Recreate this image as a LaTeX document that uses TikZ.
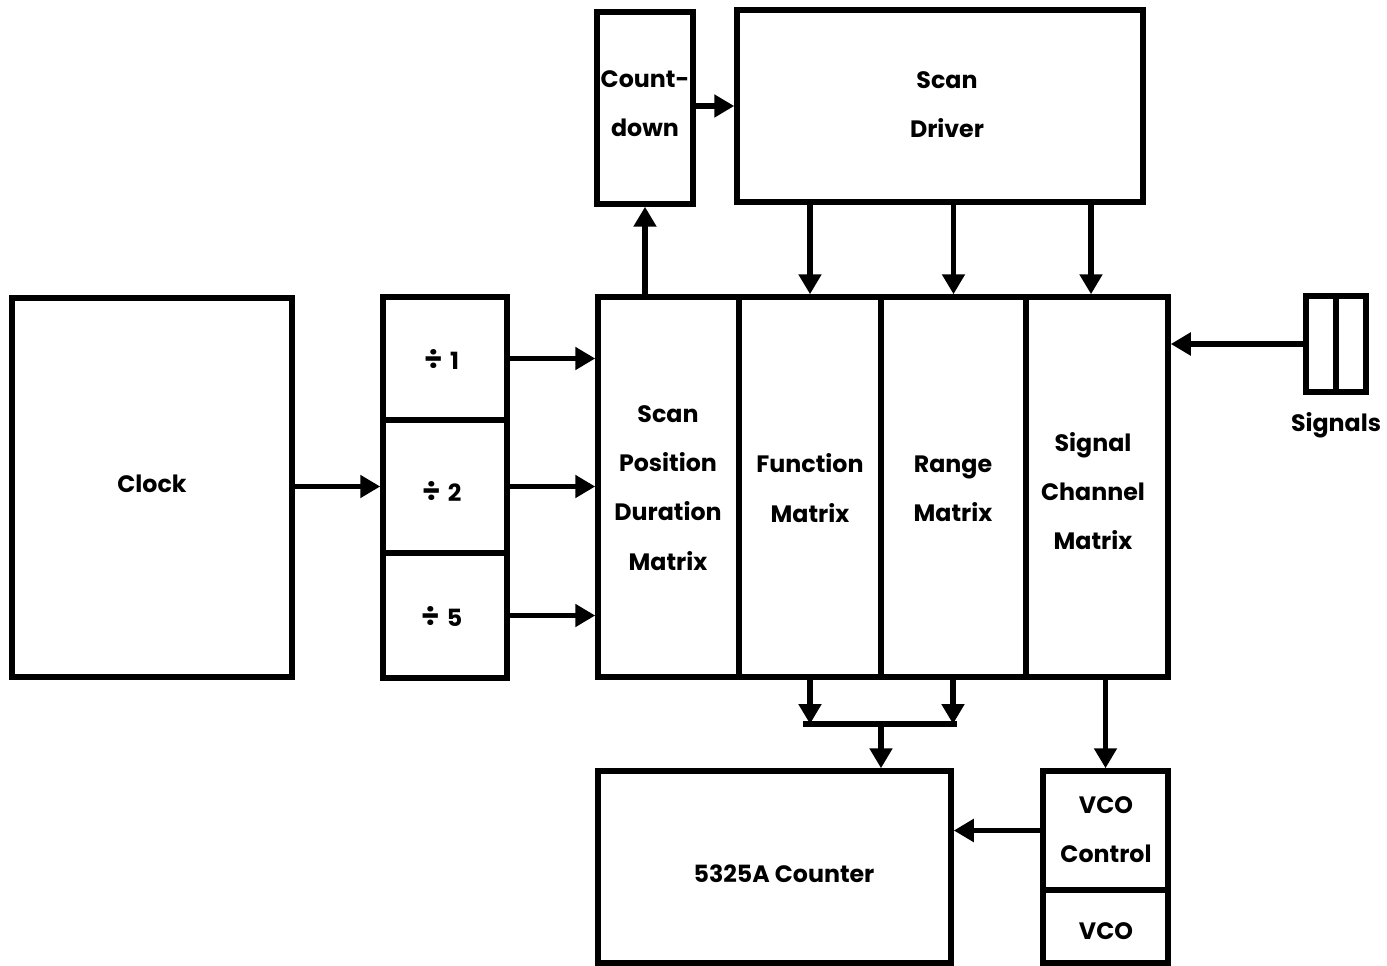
\documentclass[tikz,border=0pt]{standalone}
\usepackage{fontspec}
\setmainfont{Poppins}
\usetikzlibrary{arrows.meta,fit}
\newcommand{\dvs}[1]{{\fontsize{17pt}{17pt}\selectfont ÷}\hspace{0.14cm}#1}
\begin{document}
\begin{tikzpicture}[x=0.02cm,y=-0.02cm,
  box/.style={draw, line width=0.11cm, inner sep=0pt},
  lbl/.style={align=center, inner sep=0pt, font=\fontsize{13.5pt}{28pt}\selectfont\bfseries},
  arr/.style={line width=0.11cm, -{Triangle[length=0.4cm,width=0.44cm]}},
  wire/.style={line width=0.11cm}]
\useasboundingbox (0,0) rectangle (1387,966);
% boxes
\node[box, fit={(12,298) (292,677)}] (clock) {};
\node[box, fit={(383,297) (507,420)}] (d1) {};
\node[box, fit={(383,420) (507,553)}] (d2) {};
\node[box, fit={(383,553) (507,678)}] (d5) {};
\node[box, fit={(598,297) (739,677)}] (spd) {};
\node[box, fit={(739,297) (881,677)}] (fun) {};
\node[box, fit={(881,297) (1026,677)}] (rng) {};
\node[box, fit={(1026,297) (1168,677)}] (sig) {};
\node[box, fit={(597,12) (693,204)}] (cd) {};
\node[box, fit={(737,10) (1143,202)}] (sd) {};
\node[box, fit={(1306,296) (1336,392)}] (sA) {};
\node[box, fit={(1336,296) (1366,392)}] (sB) {};
\node[box, fit={(598,771) (951,963)}] (ctr) {};
\node[box, fit={(1043,771) (1168,890)}] (vcoc) {};
\node[box, fit={(1043,890) (1168,963)}] (vco) {};
% texts
\node[lbl] (clockT) at (152,484) {Clock};
\node[lbl] (d1T) at (442,359) {\dvs{1}};
\node[lbl] (d2T) at (442,491) {\dvs{2}};
\node[lbl] (d5T) at (442,616) {\dvs{5}};
\node[lbl] (spdT) at (668,488) {Scan\\Position\\Duration\\Matrix};
\node[lbl] (funT) at (810,488) {Function\\Matrix};
\node[lbl] (rngT) at (953,489) {Range\\Matrix};
\node[lbl] (sigT) at (1093,491) {Signal\\Channel\\Matrix};
\node[lbl] (cdT) at (645,104) {Count-\\down};
\node[lbl] (sdT) at (947,105) {Scan\\Driver};
\node[lbl] (siglbl) at (1336,425) {Signals};
\node[lbl] (ctrT) at (784,874) {5325A Counter};
\node[lbl] (vcocT) at (1106,830) {VCO\\Control};
\node[lbl] (vcoT) at (1106,931) {VCO};
% coordinates
\coordinate (sdx) at (1091,0);
\coordinate (m1) at (810,724);
\coordinate (m2) at (953,724);
\coordinate (mm) at (881,724);
% connectors
\draw[arr] (clock.east |- d2.west) -- (d2.west);
\draw[arr] (d1.east) -- (d1.east -| spd.west);
\draw[arr] (d2.east) -- (d2.east -| spd.west);
\draw[arr] (d5.east) -- (d5.east -| spd.west);
\draw[arr] (spd.north -| cd.south) -- (cd.south);
\draw[arr] (cd.east |- sd.west) -- (sd.west);
\draw[arr] (sd.south -| fun.north) -- (fun.north);
\draw[arr] (sd.south -| rng.north) -- (rng.north);
\draw[arr] (sd.south -| sdx) -- (sig.north -| sdx);
\draw[arr] (sA.west) -- (sA.west -| sig.east);
\draw[arr] (fun.south -| m1) -- (m1);
\draw[arr] (rng.south -| m2) -- (m2);
\draw[wire] ([xshift=-0.14cm]m1) -- ([xshift=0.08cm]m2);
\draw[arr] (mm) -- (mm |- ctr.north);
\draw[arr] (sig.south -| vcoc.north) -- (vcoc.north);
\draw[arr] (vcoc.west) -- (vcoc.west -| ctr.east);
\end{tikzpicture}
\end{document}
